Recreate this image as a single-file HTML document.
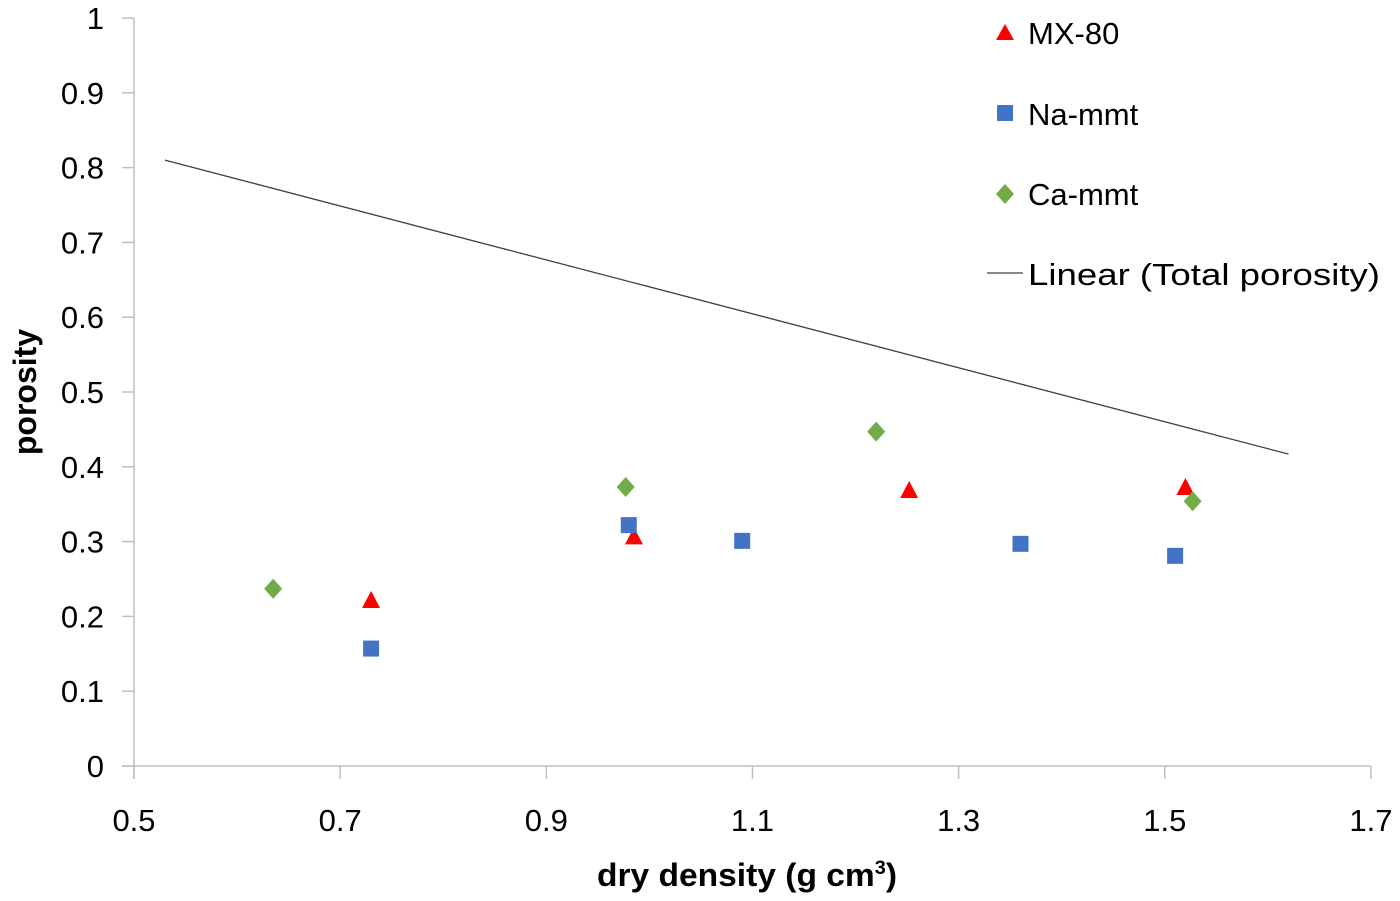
<!DOCTYPE html>
<html><head><meta charset="utf-8"><style>
html,body{margin:0;padding:0;background:#fff;}
svg text{font-family:"Liberation Sans",sans-serif;fill:#000;}
</style></head><body>
<svg id="chart" width="1400" height="896" xmlns="http://www.w3.org/2000/svg">
<g id="axes"></g><g id="marks"></g>
<g>
<polygon points="1005,24 1014,40 996,40" fill="#ff0000"/>
<text x="1028" y="44" font-size="31">MX-80</text>
<rect x="997" y="105" width="16" height="16" fill="#4472c4"/>
<text x="1028" y="125" font-size="31">Na-mmt</text>
<polygon points="1005,184 1014,194 1005,204 996,194" fill="#70ad47"/>
<text x="1028" y="205" font-size="31">Ca-mmt</text>
<line x1="987" y1="273" x2="1023" y2="273" stroke="#404040" stroke-width="1.3"/>
<text x="1028" y="285" font-size="31" textLength="352" lengthAdjust="spacingAndGlyphs">Linear (Total porosity)</text>
</g>
<text x="747" y="886" font-size="32" font-weight="bold" text-anchor="middle" textLength="300" lengthAdjust="spacingAndGlyphs">dry density (g cm<tspan font-size="19" dy="-12">3</tspan><tspan dy="12">)</tspan></text>
<text transform="translate(36,392) rotate(-90)" font-size="32" font-weight="bold" text-anchor="middle">porosity</text>
</svg>
<script>
const xTicks=[0.5,0.7,0.9,1.1,1.3,1.5,1.7];
const yTicks=[0,0.1,0.2,0.3,0.4,0.5,0.6,0.7,0.8,0.9,1];
const mxX=[0.73,0.985,1.252,1.52];
const mxY=[0.222,0.307,0.369,0.373];
const naX=[0.73,0.98,1.09,1.36,1.51];
const naY=[0.157,0.322,0.301,0.297,0.281];
const caX=[0.635,0.977,1.22,1.527];
const caY=[0.237,0.373,0.447,0.354];
const lineX=[0.53,1.62];
const lineY=[0.81,0.417];
const NS='http://www.w3.org/2000/svg';
const sx=v=>134+(v-0.5)*1030.8;
const sy=v=>766-v*748;
const axes=document.getElementById('axes'),marks=document.getElementById('marks');
function mk(t,a,p){const e=document.createElementNS(NS,t);for(const k in a)e.setAttribute(k,a[k]);p.appendChild(e);return e;}
let e=mk('line',{x1:122,y1:766,x2:1371,y2:766,stroke:'#bfbfbf','stroke-width':1.5},axes);


e=mk('line',{x1:134,y1:18,x2:134,y2:779,stroke:'#bfbfbf','stroke-width':1.5},axes);


xTicks.forEach(v=>{
 let t=mk('line',{x1:sx(v),y1:766,x2:sx(v),y2:779,stroke:'#bfbfbf','stroke-width':1.5},axes);
 
 
 let l=mk('text',{x:sx(v),y:831,'font-size':31,'text-anchor':'middle'},axes);l.textContent=String(v);
 
 
});
yTicks.forEach(v=>{
 let t=mk('line',{x1:122,y1:sy(v),x2:134,y2:sy(v),stroke:'#bfbfbf','stroke-width':1.5},axes);
 
 
 let l=mk('text',{x:104,y:sy(v)+11,'font-size':31,'text-anchor':'end'},axes);l.textContent=String(v);
 
 
});
let ln=mk('line',{x1:sx(lineX[0]),y1:sy(lineY[0]),x2:sx(lineX[1]),y2:sy(lineY[1]),stroke:'#404040','stroke-width':1.3},marks);


mxX.forEach((x,i)=>{const cx=sx(x),cy=sy(mxY[i]);
 let p=mk('polygon',{points:`${cx},${cy-9} ${cx+9},${cy+8} ${cx-9},${cy+8}`,fill:'#ff0000'},marks);
 
 });
naX.forEach((x,i)=>{const cx=sx(x),cy=sy(naY[i]);
 let p=mk('rect',{x:cx-8,y:cy-8,width:16,height:16,fill:'#4472c4'},marks);
 
 });
caX.forEach((x,i)=>{const cx=sx(x),cy=sy(caY[i]);
 let p=mk('polygon',{points:`${cx},${cy-10} ${cx+9},${cy} ${cx},${cy+10} ${cx-9},${cy}`,fill:'#70ad47'},marks);
 
 });
</script>
</body></html>
